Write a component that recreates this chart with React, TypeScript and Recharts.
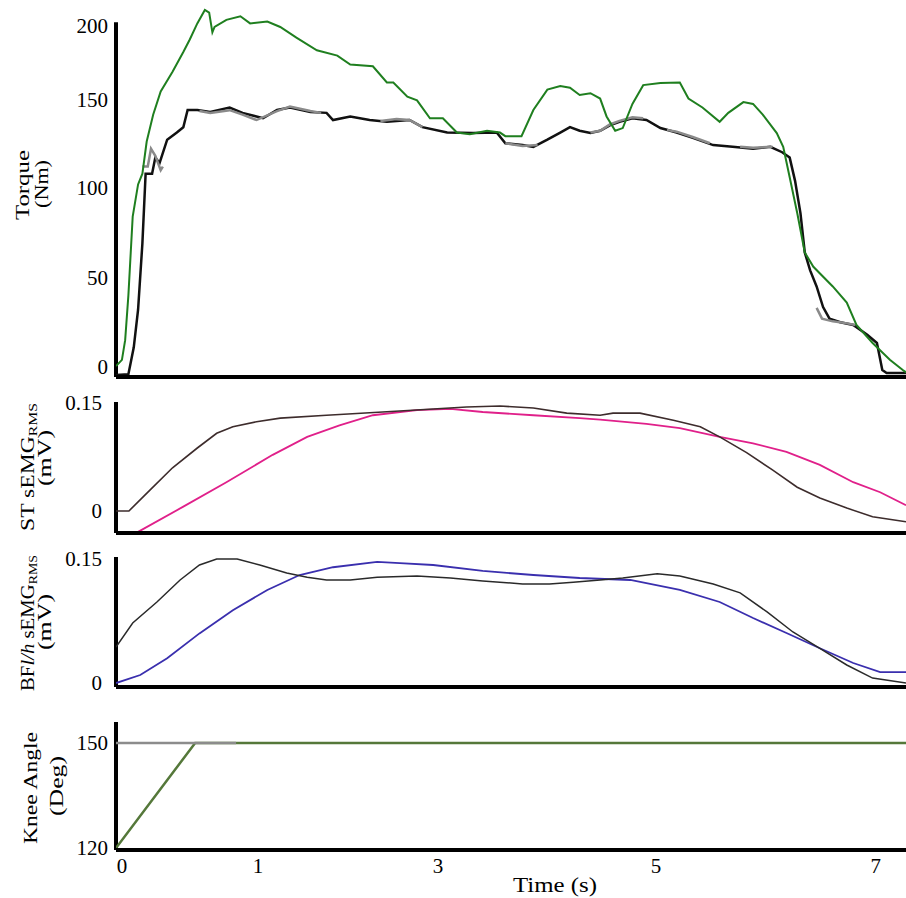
import React from 'react';
import { LineChart, Line, XAxis, YAxis, ReferenceLine } from 'recharts';

const FONT = '"Liberation Serif", "Times New Roman", serif';

// ---------- data: [time (s), value] ----------
type Pt = [number, number | null];

const torqueGreen: Pt[] = [
  [-0.055, 0.5], [0.0, 4], [0.03, 15], [0.06, 40], [0.08, 62], [0.1, 84], [0.15, 102], [0.19, 108],
  [0.23, 126], [0.29, 141], [0.36, 154], [0.47, 165], [0.57, 176], [0.63, 183], [0.7, 192], [0.77, 199.5],
  [0.81, 198], [0.84, 187], [0.86, 190], [0.97, 194], [1.1, 196], [1.19, 192], [1.35, 193], [1.47, 190],
  [1.62, 184], [1.81, 177], [2.0, 174], [2.12, 169], [2.33, 168], [2.46, 159], [2.52, 159], [2.65, 151],
  [2.74, 149], [2.86, 139], [2.98, 139], [3.11, 131], [3.23, 130], [3.39, 132], [3.51, 131], [3.56, 129],
  [3.71, 129], [3.82, 143.6], [3.95, 155], [4.07, 157], [4.16, 156], [4.25, 152], [4.35, 153], [4.44, 150],
  [4.5, 140], [4.58, 132], [4.65, 133.5], [4.74, 147], [4.84, 157.5], [5.0, 158.7], [5.18, 159], [5.26, 150],
  [5.39, 145], [5.55, 137], [5.63, 142], [5.77, 148], [5.86, 147], [5.95, 141], [6.08, 130.7], [6.14, 123],
  [6.2, 106], [6.27, 86], [6.34, 64], [6.42, 56], [6.6, 45], [6.73, 36], [6.82, 23.5], [6.97, 13.4],
  [7.13, 4], [7.25, -1.7], [7.28, -3],
];

const torqueBlack: Pt[] = [
  [-0.055, -4.5], [0.06, -4], [0.08, 2], [0.11, 11], [0.15, 32], [0.19, 69], [0.22, 108], [0.28, 108],
  [0.31, 117], [0.35, 114], [0.42, 127], [0.51, 131], [0.57, 134], [0.61, 143.6], [0.7, 143.6], [0.82, 142.5],
  [1.0, 145], [1.12, 142], [1.31, 139], [1.44, 143.6], [1.56, 145], [1.75, 142.5], [1.9, 142], [1.96, 138],
  [2.12, 140], [2.3, 138], [2.46, 137], [2.67, 138], [2.79, 134], [3.02, 131], [3.26, 130.7], [3.48, 131],
  [3.56, 125], [3.72, 124], [3.82, 123], [3.95, 127], [4.07, 131], [4.16, 134], [4.25, 132], [4.35, 130.7],
  [4.44, 132], [4.53, 135], [4.62, 137], [4.74, 139], [4.87, 138], [5.0, 133.5], [5.15, 131], [5.3, 128],
  [5.49, 124], [5.67, 123], [5.86, 122], [6.02, 123], [6.13, 120], [6.2, 117], [6.25, 104], [6.3, 86],
  [6.34, 64], [6.39, 54], [6.45, 45], [6.51, 33.5], [6.57, 27], [6.67, 25], [6.79, 23.5], [6.92, 18],
  [7.01, 13.4], [7.06, -1.7], [7.1, -3.4], [7.28, -3.4],
];

// visible grey trace (null = hidden under the black trace)
const torqueGrey: Pt[] = [
  [0.19, 112], [0.24, 112], [0.27, 122], [0.31, 118], [0.36, 110], [0.38, 112], [0.4, null],
  [0.72, 143], [0.82, 142], [1.0, 143.5], [1.12, 141], [1.25, 138], [1.44, 143], [1.56, 145.5], [1.75, 143], [1.85, 142], [1.9, null],
  [2.4, 137.5], [2.55, 138.5], [2.67, 138], [2.79, 134], [2.85, null],
  [3.56, 125], [3.72, 123.5], [3.86, 124], [3.9, null],
  [4.35, 131], [4.44, 132], [4.53, 135.5], [4.62, 137.5], [4.74, 139.5], [4.84, 139], [4.9, null],
  [5.06, 132.5], [5.15, 131.5], [5.3, 128.5], [5.46, 125], [5.5, null],
  [5.74, 123], [5.86, 122.5], [6.04, 123], [6.1, null],
  [6.45, 33], [6.5, 27], [6.6, 25.5], [6.72, 24.5], [6.81, 23.5],
];

const stBlack: Pt[] = [
  [-0.055, 0], [0.065, 0], [0.26, 0.029], [0.47, 0.06], [0.7, 0.0875], [0.88, 0.108], [1.03, 0.117],
  [1.25, 0.124], [1.47, 0.129], [1.9, 0.133], [2.42, 0.1375], [2.89, 0.1417], [3.2, 0.1444], [3.51, 0.1458],
  [3.82, 0.143], [4.13, 0.136], [4.44, 0.133], [4.56, 0.136], [4.81, 0.136], [5.12, 0.126], [5.37, 0.117],
  [5.55, 0.103], [5.8, 0.081], [6.04, 0.057], [6.27, 0.033], [6.48, 0.018], [6.73, 0.004], [6.97, -0.008],
  [7.28, -0.015],
];

const stPink: Pt[] = [
  [0.15, -0.029], [0.57, 0.006], [0.97, 0.04], [1.4, 0.078], [1.72, 0.103], [2.02, 0.119], [2.33, 0.133],
  [2.74, 0.14], [3.05, 0.142], [3.35, 0.1375], [3.82, 0.133], [4.25, 0.129], [4.44, 0.127], [4.87, 0.121],
  [5.18, 0.115], [5.55, 0.103], [5.86, 0.094], [6.17, 0.082], [6.48, 0.064], [6.79, 0.04], [7.04, 0.026],
  [7.28, 0.008],
];

const bfBlack: Pt[] = [
  [-0.055, 0.0435], [0.1, 0.0726], [0.325, 0.098], [0.54, 0.1246], [0.72, 0.1427], [0.88, 0.15], [1.07, 0.15],
  [1.28, 0.1427], [1.53, 0.133], [1.72, 0.128], [1.9, 0.1246], [2.12, 0.1246], [2.37, 0.128], [2.74, 0.1294],
  [3.05, 0.127], [3.35, 0.1234], [3.72, 0.1198], [3.97, 0.1198], [4.19, 0.122], [4.44, 0.1246], [4.65, 0.127],
  [4.97, 0.132], [5.18, 0.1294], [5.49, 0.1198], [5.74, 0.109], [5.99, 0.086], [6.23, 0.0617], [6.48, 0.042],
  [6.73, 0.0218], [6.97, 0.006], [7.28, 0.0],
];

const bfBlue: Pt[] = [
  [-0.055, 0], [0.17, 0.0097], [0.42, 0.03], [0.72, 0.06], [1.03, 0.088], [1.35, 0.1125], [1.65, 0.1306],
  [1.96, 0.14], [2.37, 0.1464], [2.58, 0.145], [2.89, 0.1427], [3.35, 0.1355], [3.82, 0.1306], [4.25, 0.127],
  [4.72, 0.1246], [5.18, 0.1125], [5.55, 0.098], [5.86, 0.0786], [6.17, 0.0605], [6.48, 0.042], [6.79, 0.0242],
  [7.04, 0.0133], [7.28, 0.0133],
];

const kneeGreen: Pt[] = [[-0.055, 120], [0.68, 150], [7.28, 150]];
const kneeGrey: Pt[] = [[-0.055, 150], [1.06, 150]];

// ---------- axes ----------
const X_DOMAIN: [number, number] = [-0.055, 7.28];
const xTickValues = [0, 1.263, 2.934, 4.958, 7.0];
const xTickLabels = ['0', '1', '3', '5', '7'];

const torqueTickValues = [0, 49.7, 100, 149.2, 191];
const torqueTickLabels = ['0', '50', '100', '150', '200'];
const emgTickValues = [0, 0.15];
const emgTickLabels = ['0', '0.15'];
const kneeTickValues = [120, 150];
const kneeTickLabels = ['120', '150'];

const toData = (pts: Pt[]) => pts.map(([t, v]) => ({ t, v }));

type TitleProps = {
  x1: number; x2: number; cy1: number; cy2: number; len1: number; len2: number;
  line1: React.ReactNode; line2: string; viewBox?: unknown;
};
function AxisTitle({ x1, x2, cy1, cy2, len1, len2, line1, line2 }: TitleProps) {
  return (
    <g>
      <text transform={`translate(${x1},${cy1}) rotate(-90)`} textAnchor="middle" dominantBaseline="central"
        fontFamily={FONT} fontSize={18} fill="#000" textLength={len1} lengthAdjust="spacingAndGlyphs">{line1}</text>
      <text transform={`translate(${x2},${cy2}) rotate(-90)`} textAnchor="middle" dominantBaseline="central"
        fontFamily={FONT} fontSize={18} fill="#000" textLength={len2} lengthAdjust="spacingAndGlyphs">{line2}</text>
    </g>
  );
}

function TimeTitle(_p: { viewBox?: unknown }) {
  return (
    <text x={555} y={175} textAnchor="middle" dominantBaseline="central" fontFamily={FONT} fontSize={20} fill="#000"
      textLength={84} lengthAdjust="spacingAndGlyphs">
      Time (s)
    </text>
  );
}

const tickStyle = { fontFamily: FONT, fontSize: 21, fill: '#000' };
const W = 906;

function Panel(props: {
  top: number; height: number; marginTop: number; marginBottom: number; xHeight: number;
  yDomain: [number, number]; yTop: number; yTicks: number[]; yLabels: string[]; tickMargin: number;
  title: React.ReactElement; children: React.ReactNode; bottomAxis?: boolean;
}) {
  const { top, height, marginTop, marginBottom, xHeight, yDomain, yTop, yTicks, yLabels, tickMargin, title, children, bottomAxis } = props;
  return (
    <div style={{ position: 'absolute', left: 0, top }}>
      <LineChart width={W} height={height} margin={{ top: marginTop, right: 0, bottom: marginBottom, left: 0 }}>
        <XAxis
          type="number" dataKey="t" domain={X_DOMAIN} allowDataOverflow height={xHeight}
          axisLine={{ stroke: '#000', strokeWidth: 4 }} tickLine={false}
          tick={bottomAxis ? tickStyle : false}
          ticks={bottomAxis ? xTickValues : undefined}
          interval={0}
          tickMargin={2}
          tickFormatter={(_v: number, i: number) => xTickLabels[i]}
          label={bottomAxis ? <TimeTitle /> : undefined}
        />
        <YAxis
          type="number" domain={yDomain} allowDataOverflow width={116}
          axisLine={false} tickLine={false} ticks={yTicks} interval={0}
          tick={tickStyle} tickMargin={tickMargin}
          tickFormatter={(_v: number, i: number) => yLabels[i]}
          label={title}
        />
        <ReferenceLine
          segment={[{ x: X_DOMAIN[0], y: yDomain[0] }, { x: X_DOMAIN[0], y: yTop }]}
          stroke="#000" strokeWidth={4} ifOverflow="visible"
        />
        {children}
      </LineChart>
    </div>
  );
}

export default function App() {
  return (
    <div style={{ position: 'absolute', left: 0, top: 0, width: 906, height: 898, background: '#fff' }}>
      <Panel top={0} height={389} marginTop={8} marginBottom={10} xHeight={2} yDomain={[-5.6, 200.6]} yTop={192.7}
        yTicks={torqueTickValues} yLabels={torqueTickLabels} tickMargin={2}
        title={<AxisTitle x1={23} x2={42} cy1={185} cy2={184} len1={70} len2={48} line1="Torque" line2="(Nm)" />}>
        <Line data={toData(torqueBlack)} dataKey="v" type="linear" dot={false} stroke="#111" strokeWidth={2.5} isAnimationActive={false} />
        <Line data={toData(torqueGrey)} dataKey="v" type="linear" dot={false} stroke="#8a8a8a" strokeWidth={2.5} isAnimationActive={false} connectNulls={false} />
        <Line data={toData(torqueGreen)} dataKey="v" type="linear" dot={false} stroke="#1f7f1f" strokeWidth={2} isAnimationActive={false} />
      </Panel>

      <Panel top={390} height={155} marginTop={10} marginBottom={10} xHeight={2} yDomain={[-0.0306, 0.1542]} yTop={0.1514}
        yTicks={emgTickValues} yLabels={emgTickLabels} tickMargin={8}
        title={<AxisTitle x1={28} x2={45} cy1={77} cy2={68} len1={128} len2={56}
          line1={<>ST sEMG<tspan fontSize={12} dy={5}>RMS</tspan></>} line2="(mV)" />}>
        <Line data={toData(stPink)} dataKey="v" type="linear" dot={false} stroke="#e0208a" strokeWidth={1.8} isAnimationActive={false} />
        <Line data={toData(stBlack)} dataKey="v" type="linear" dot={false} stroke="#3d2c2c" strokeWidth={1.6} isAnimationActive={false} />
      </Panel>

      <Panel top={545} height={154} marginTop={10} marginBottom={10} xHeight={2} yDomain={[-0.0048, 0.1548]} yTop={0.1524}
        yTicks={emgTickValues} yLabels={emgTickLabels} tickMargin={8}
        title={<AxisTitle x1={28} x2={45} cy1={78} cy2={77} len1={136} len2={56}
          line1={<>BF<tspan fontStyle="italic">l/h</tspan> sEMG<tspan fontSize={12} dy={5}>RMS</tspan></>} line2="(mV)" />}>
        <Line data={toData(bfBlue)} dataKey="v" type="linear" dot={false} stroke="#3a2fae" strokeWidth={1.8} isAnimationActive={false} />
        <Line data={toData(bfBlack)} dataKey="v" type="linear" dot={false} stroke="#2a2a2a" strokeWidth={1.5} isAnimationActive={false} />
      </Panel>

      <Panel top={710} height={188} marginTop={10} marginBottom={0} xHeight={48} yDomain={[119.43, 156.57]} yTop={156}
        yTicks={kneeTickValues} yLabels={kneeTickLabels} tickMargin={2} bottomAxis
        title={<AxisTitle x1={31} x2={57} cy1={78} cy2={76} len1={112} len2={60} line1="Knee Angle" line2="(Deg)" />}>
        <Line data={toData(kneeGreen)} dataKey="v" type="linear" dot={false} stroke="#55783a" strokeWidth={2.5} isAnimationActive={false} />
        <Line data={toData(kneeGrey)} dataKey="v" type="linear" dot={false} stroke="#8c8c8c" strokeWidth={2.5} isAnimationActive={false} />
      </Panel>
    </div>
  );
}
